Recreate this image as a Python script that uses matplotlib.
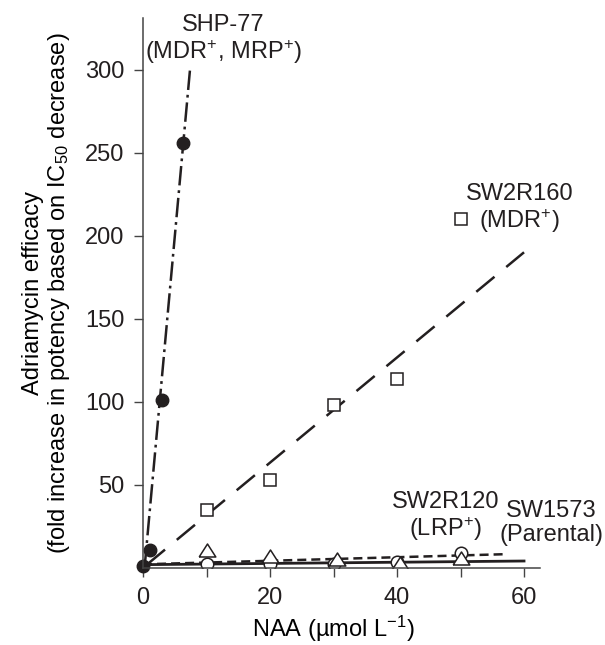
import matplotlib
matplotlib.use("Agg")
import matplotlib.pyplot as plt
from matplotlib import font_manager

# data
naa_shp77 = [0, 1.1, 3.0, 6.25]
eff_shp77 = [1, 10.7, 101, 256]
fit_shp77_x = [0.25, 7.4]
fit_shp77_y = [0.5, 300]

naa_sw2r160 = [10, 20, 30, 40, 50]
eff_sw2r160 = [35, 53, 98, 114, 210]
fit_sw2r160_x = [0.6, 60]
fit_sw2r160_y = [2, 190]

naa_sw2r120 = [10, 20, 30.5, 40.5, 50]
eff_sw2r120 = [10.7, 7.3, 5.2, 3.2, 6]
fit_sw2r120_x = [0, 57]
fit_sw2r120_y = [2.2, 8.3]

naa_sw1573 = [10, 20, 30, 40, 50]
eff_sw1573 = [2.2, 2.2, 2.2, 3.6, 9.3]
fit_sw1573_x = [0, 60]
fit_sw1573_y = [2, 4.2]

xticks = [0, 20, 40, 60]
yticks = [50, 100, 150, 200, 250, 300]

ink = '#231f20'

names = {f.name for f in font_manager.fontManager.ttflist}
if 'Liberation Sans Narrow' in names:
    fam, fs = 'Liberation Sans Narrow', 19
else:
    fam, fs = 'Liberation Sans', 17
plt.rcParams['font.family'] = [fam, 'DejaVu Sans']
plt.rcParams['mathtext.fontset'] = 'custom'
plt.rcParams['mathtext.rm'] = fam
plt.rcParams['mathtext.it'] = fam
plt.rcParams['mathtext.default'] = 'regular'
plt.rcParams['lines.scale_dashes'] = False
plt.rcParams['text.color'] = ink

fig = plt.figure(figsize=(6.05, 6.45), dpi=100)
ax = fig.add_axes([0.2364, 0.1194, 0.656, 0.8527])

# fitted lines
ax.plot(fit_shp77_x, fit_shp77_y, color=ink, lw=1.8, ls=(0, (14, 3.5, 2, 3.5)))
ax.plot(fit_sw2r160_x, fit_sw2r160_y, color=ink, lw=1.8, ls=(0, (17, 11)))
ax.plot(fit_sw2r120_x, fit_sw2r120_y, color=ink, lw=1.8, ls=(0, (6.5, 3.6)))
ax.plot(fit_sw1573_x, fit_sw1573_y, color=ink, lw=2.0, ls='-')

# points
tri = [(-1, -0.78), (1, -0.78), (0, 0.78), (-1, -0.78)]
ax.plot(naa_sw1573, eff_sw1573, 'o', ms=9, mfc='white', mec=ink, mew=1.1, ls='none')
ax.plot(naa_sw2r120, eff_sw2r120, marker=tri, ms=12, mfc='white', mec=ink, mew=1.1, ls='none')
ax.plot(naa_sw2r160, eff_sw2r160, 's', ms=9, mfc='white', mec=ink, mew=1.1, ls='none')
ax.plot(naa_shp77, eff_shp77, 'o', ms=9, color=ink, ls='none', clip_on=False)

ax.set_xlim(0, 62.5)
ax.set_ylim(0, 331)
ax.set_xticks(xticks)
ax.set_yticks(yticks)
ax.spines['top'].set_visible(False)
ax.spines['right'].set_visible(False)
for s in ['left', 'bottom']:
    ax.spines[s].set_linewidth(1.1)
    ax.spines[s].set_color('#444444')
ax.tick_params(direction='out', length=6.5, width=1.0, color='#444444',
               labelsize=fs, labelcolor=ink, pad=7)
ax.set_xticks([10, 30, 50], minor=True)
ax.tick_params(which='minor', direction='out', length=6.5, width=1.0, color='#444444')

ax.set_xlabel(r'NAA (µmol L$^{\mathrm{-1}}$)', fontsize=fs)
ax.xaxis.set_label_coords(30 / 62.5, -0.083)
ax.set_ylabel('Adriamycin efficacy\n(fold increase in potency based on IC$_{\\mathrm{50}}$ decrease)',
              fontsize=fs, linespacing=1.1)
ax.yaxis.set_label_coords(-0.18, 0.5)

txt = dict(fontsize=fs, ha='center', va='center', linespacing=1.1)
ax.text(12.6, 318, 'SHP-77\n(MDR$^{+}$, MRP$^{+}$)', **txt)
ax.text(59.3, 216, 'SW2R160\n(MDR$^{+}$)', **txt)
ax.text(47.7, 30.4, 'SW2R120\n(LRP$^{+}$)', **txt)
ax.text(64.3, 27, 'SW1573\n(Parental)', clip_on=False, **txt)

plt.savefig('out.png', dpi=100)
